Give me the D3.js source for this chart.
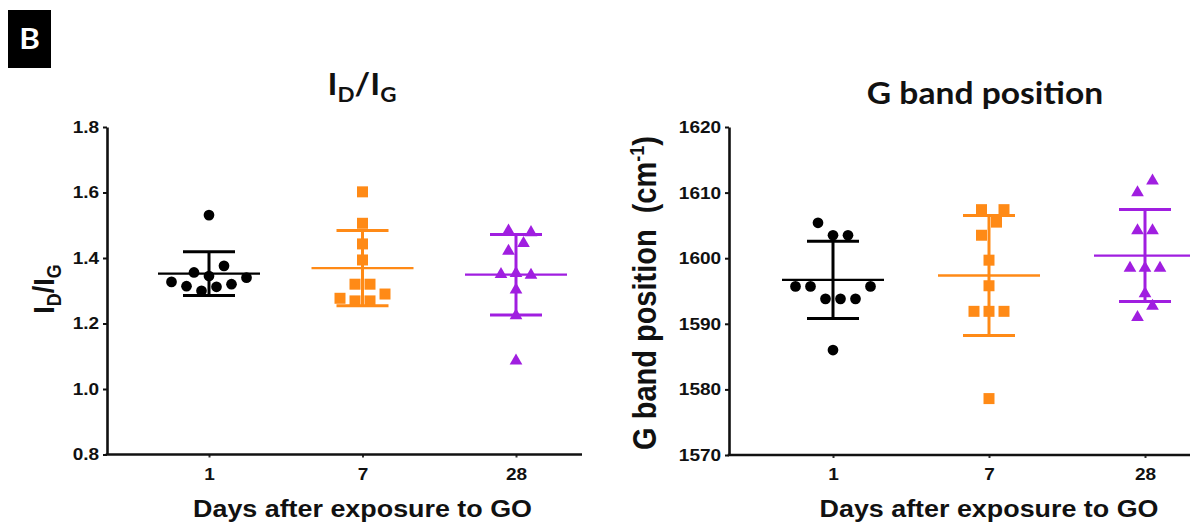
<!DOCTYPE html>
<html>
<head>
<meta charset="utf-8">
<script src="https://cdn.jsdelivr.net/npm/d3@7"></script>
<style>
  body { margin: 0; background: #fff; }
  svg { display: block; }
  text { font-family: "Liberation Sans", Arial, sans-serif; font-weight: bold; fill: #111; }
  .title { font-family: Lato, "Open Sans", sans-serif; }
</style>
</head>
<body>
<svg id="chart" width="1190" height="524"></svg>
<script>
const days = ['1', '7', '28'];
const colors = ['#000000', '#ff8a16', '#a01ee0'];
const symbols = [d3.symbolCircle, d3.symbolSquare, d3.symbolTriangle];
const symbolSizes = [90, 121, 70];

// I_D/I_G per sample, one array per day
const ratioDay1 = [1.327, 1.314, 1.300, 1.312, 1.320, 1.340, 1.356, 1.345, 1.376, 1.531];
const ratioDay7 = [1.277, 1.269, 1.269, 1.290, 1.320, 1.320, 1.394, 1.443, 1.506, 1.602];
const ratioDay28 = [1.086, 1.224, 1.303, 1.350, 1.353, 1.348, 1.421, 1.445, 1.483, 1.478];

// G band position (cm-1) per sample
const gbandDay1 = [1586.0, 1595.7, 1595.7, 1593.8, 1593.8, 1593.8, 1595.7, 1605.4, 1603.5, 1603.5];
const gbandDay7 = [1578.6, 1591.9, 1591.9, 1591.9, 1595.8, 1599.7, 1603.5, 1605.5, 1607.4, 1607.4];
const gbandDay28 = [1591.0, 1592.7, 1594.6, 1598.5, 1598.5, 1598.5, 1604.2, 1604.2, 1610.0, 1611.8];

const ratioTicks = [0.8, 1.0, 1.2, 1.4, 1.6, 1.8];
const gbandTicks = [1570, 1580, 1590, 1600, 1610, 1620];

const svg = d3.select('#chart');
const SX = 1.12; // text is drawn slightly wide

// panel letter
svg.append('rect').attr('x', 8).attr('y', 10).attr('width', 43).attr('height', 58).attr('fill', '#000');
svg.append('text').attr('class', 'title')
    .attr('transform', `translate(29.5,49) scale(${SX},1)`)
    .attr('text-anchor', 'middle').attr('font-size', 28).style('fill', '#fff').text('B');

// spread points sideways in rows, the way a column scatter does
function swarm(values, y, step, rowGap, hitGap) {
    const idx = d3.range(values.length).sort((a, b) => values[a] - values[b] || a - b);
    const groups = [];
    let cur = null;
    idx.forEach((i) => {
        if (!cur || Math.abs(y(values[i]) - y(values[cur[0]])) > rowGap) {
            cur = [i];
            groups.push(cur);
        } else cur.push(i);
    });
    const placed = [];
    const out = new Array(values.length);
    groups.forEach((gr) => {
        gr.sort((a, b) => a - b);
        gr.forEach((i, k) => {
            let dx = (k - (gr.length - 1) / 2) * step;
            const py = y(values[i]);
            const dir = dx < 0 ? -1 : 1;
            while (placed.some((p) => Math.abs(p.dx - dx) < 7 && Math.abs(p.py - py) < hitGap)) dx += (dir * step) / 2;
            placed.push({ dx, py });
            out[i] = dx;
        });
    });
    return out;
}

function drawPanel(cfg) {
    const g = svg.append('g');
    const y = d3.scaleLinear().domain(cfg.domain).range([cfg.bottom, cfg.top]);
    const x = d3.scalePoint().domain(days).range(cfg.xRange);

    // Y axis
    const ya = g.append('g')
        .attr('transform', `translate(${cfg.left},0)`)
        .call(d3.axisLeft(y).tickValues(cfg.ticks).tickFormat(cfg.fmt).tickSize(4).tickPadding(3).tickSizeOuter(0));
    ya.select('.domain').attr('stroke', '#111').attr('stroke-width', 2.6);
    ya.selectAll('.tick line').attr('stroke', '#111').attr('stroke-width', 2);
    ya.selectAll('text').attr('font-size', 17).attr('font-family', null).attr('transform', `scale(${SX},1)`);

    // X axis
    const xa = g.append('g')
        .attr('transform', `translate(0,${cfg.bottom})`)
        .call(d3.axisBottom(x).tickSize(3).tickPadding(10));
    xa.select('.domain').remove();
    xa.selectAll('.tick line').attr('stroke', '#333').attr('stroke-width', 2);
    xa.selectAll('text').attr('font-size', 17).attr('font-family', null).attr('transform', `scale(${SX},1)`);
    g.append('line')
        .attr('x1', cfg.left - 1.3).attr('x2', cfg.right)
        .attr('y1', cfg.bottom).attr('y2', cfg.bottom)
        .attr('stroke', '#111').attr('stroke-width', 2.6);

    // points, then mean and SD bars
    cfg.series.forEach((vals, s) => {
        const cx = x(days[s]);
        const off = swarm(vals, y, 15, 13.9, 13);
        g.append('g').selectAll('path')
            .data(vals)
            .join('path')
            .attr('d', d3.symbol(symbols[s], symbolSizes[s]))
            .attr('transform', (d, i) => `translate(${cx + off[i]},${y(d)})`)
            .attr('fill', colors[s]);

        const m = d3.mean(vals);
        const sd = d3.deviation(vals);
        const bar = g.append('g').attr('stroke', colors[s]);
        bar.append('line')
            .attr('x1', cx - 51).attr('x2', cx + 51)
            .attr('y1', y(m)).attr('y2', y(m))
            .attr('stroke-width', 2.3);
        bar.append('line')
            .attr('x1', cx).attr('x2', cx)
            .attr('y1', y(m - sd)).attr('y2', y(m + sd))
            .attr('stroke-width', 3);
        [m - sd, m + sd].forEach((v) => {
            bar.append('line')
                .attr('x1', cx - 26).attr('x2', cx + 26)
                .attr('y1', y(v)).attr('y2', y(v))
                .attr('stroke-width', 3);
        });
    });

    // x axis title
    g.append('text')
        .attr('transform', `translate(${(cfg.xRange[0] + cfg.xRange[1]) / 2},517) scale(${SX},1)`)
        .attr('text-anchor', 'middle').attr('font-size', 24)
        .text('Days after exposure to GO');
    return g;
}

const left = drawPanel({
    domain: [0.8, 1.8], ticks: ratioTicks, fmt: d3.format('.1f'),
    top: 127, bottom: 454.5, left: 107, right: 582, xRange: [209, 516],
    series: [ratioDay1, ratioDay7, ratioDay28],
});

const right = drawPanel({
    domain: [1570, 1620], ticks: gbandTicks, fmt: d3.format('d'),
    top: 127, bottom: 455, left: 729, right: 1190, xRange: [833, 1145],
    series: [gbandDay1, gbandDay7, gbandDay28],
});

// I_D/I_G title
const t1 = svg.append('text').attr('class', 'title')
    .attr('transform', `translate(362,95) scale(${SX},1)`)
    .attr('text-anchor', 'middle').attr('font-size', 30);
t1.append('tspan').text('I');
t1.append('tspan').attr('font-size', 20).attr('dy', 7).text('D');
t1.append('tspan').attr('dy', -7).text('/I');
t1.append('tspan').attr('font-size', 20).attr('dy', 7).text('G');

svg.append('text').attr('class', 'title')
    .attr('transform', `translate(985,104) scale(${SX},1)`)
    .attr('text-anchor', 'middle').attr('font-size', 30)
    .text('G band position');

// y axis titles
const yl = svg.append('text')
    .attr('transform', `translate(54,289) scale(${SX},1) rotate(-90)`)
    .attr('text-anchor', 'middle').attr('font-size', 27);
yl.append('tspan').text('I');
yl.append('tspan').attr('font-size', 18).attr('dy', 6).text('D');
yl.append('tspan').attr('dy', -6).text('/I');
yl.append('tspan').attr('font-size', 18).attr('dy', 6).text('G');

const yr = svg.append('text')
    .attr('transform', `translate(656,293) scale(${SX},1) rotate(-90)`)
    .attr('text-anchor', 'middle').attr('font-size', 29)
    .style('white-space', 'pre');
yr.append('tspan').text('G band position  (cm');
yr.append('tspan').attr('font-size', 18).attr('dy', -11).text('-1');
yr.append('tspan').attr('dy', 11).text(')');
</script>
</body>
</html>
